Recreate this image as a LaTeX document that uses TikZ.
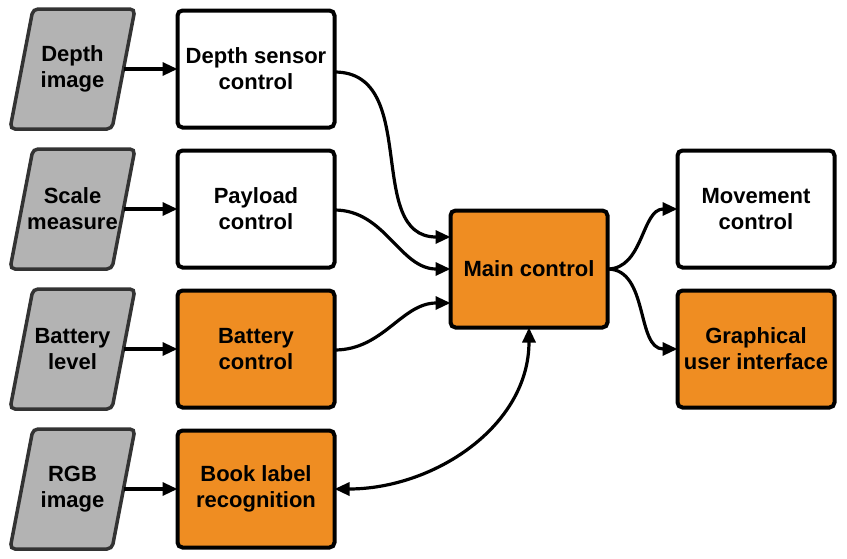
\documentclass[tikz,border=0pt]{standalone}
\usepackage{fontspec}
\setmainfont{Liberation Sans}
\usetikzlibrary{arrows.meta}
\definecolor{orng}{HTML}{EF8D22}
\definecolor{gfill}{HTML}{B3B3B3}
\definecolor{gdraw}{HTML}{333333}
\begin{document}
\begin{tikzpicture}[x=1pt,y=-1pt,
  lbl/.style={font=\bfseries\fontsize{22}{26}\selectfont, align=center, text=black},
  box/.style={lbl, draw=black, line width=4pt, rounded corners=5pt, minimum width=157pt, minimum height=117pt, inner sep=0pt, outer sep=0pt},
  wbox/.style={box, fill=white},
  obox/.style={box, fill=orng},
  para/.style={draw=gdraw, fill=gfill, line width=3.5pt, rounded corners=5pt},
  conn/.style={line width=3.2pt, draw=black, -{Triangle[length=15pt,width=13pt]}},
  conn2/.style={line width=3.2pt, draw=black, {Triangle[length=15pt,width=13pt]}-{Triangle[length=15pt,width=13pt]}}]
\useasboundingbox (0,0) rectangle (847,558);
% parallelograms
\foreach \yy/\nm/\txt in {69/pa/{Depth\\image}, 209/pb/{Scale\\measure}, 349/pc/{Battery\\level}, 489/pd/{RGB\\image}}{
  \draw[para] (33,\yy-60) -- (135,\yy-60) -- (112,\yy+60) -- (10,\yy+60) -- cycle;
  \node[lbl] (\nm) at (72.5,\yy) {\txt};
  \coordinate (\nm o) at (123.5,\yy);
}
% boxes
\node[wbox] (dsc) at (256,69) {Depth sensor\\control};
\node[wbox] (pay) at (256,209) {Payload\\control};
\node[obox] (bat) at (256,349) {Battery\\control};
\node[obox] (book) at (256,489) {Book label\\recognition};
\node[obox] (main) at (529,269) {Main control};
\node[wbox] (mov) at (756,209) {Movement\\control};
\node[obox] (gui) at (756,349) {Graphical\\user interface};
% inputs
\draw[conn] (pao) -- (dsc.west);
\draw[conn] (pbo) -- (pay.west);
\draw[conn] (pco) -- (bat.west);
\draw[conn] (pdo) -- (book.west);
% to main
\draw[conn] ([yshift=-3pt]dsc.east) to[out=0,in=180,looseness=1.1] ([yshift=32pt]main.west);
\draw[conn] ([yshift=-1pt]pay.east) to[out=0,in=180] (main.west);
\draw[conn] ([yshift=-1pt]bat.east) to[out=0,in=180] ([yshift=-34pt]main.west);
% from main
\draw[conn] (main.east) to[out=0,in=180] (mov.west);
\draw[conn] (main.east) to[out=0,in=180] (gui.west);
\draw[conn2] (main.south) to[out=-90,in=0] (book.east);
\end{tikzpicture}
\end{document}
